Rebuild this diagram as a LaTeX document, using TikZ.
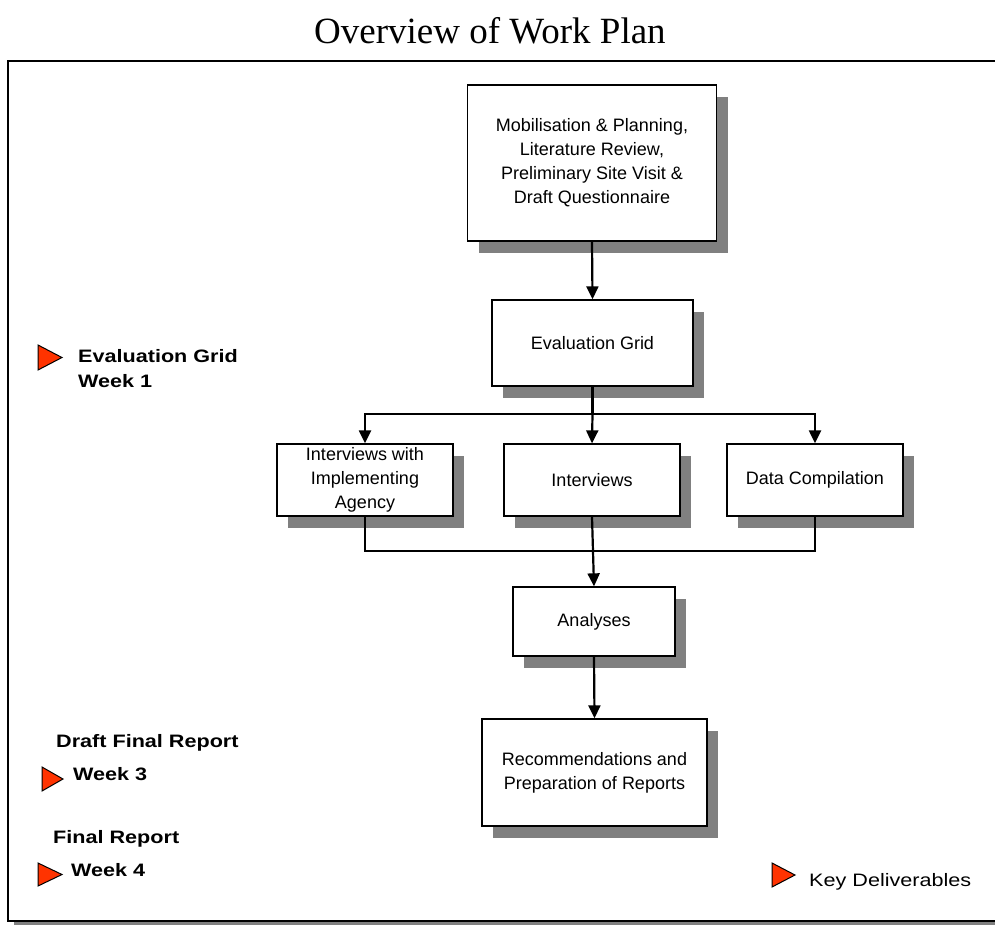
\documentclass[tikz,border=0pt]{standalone}
\usepackage{fontspec}
\setmainfont{Liberation Serif}
\newfontfamily\boxfont{Liberation Sans}
\newfontfamily\legendfont[FakeStretch=1.2]{Liberation Sans}
\usetikzlibrary{arrows.meta,shadows,calc}

\definecolor{shadowgray}{HTML}{808080}
\definecolor{markred}{HTML}{FF3300}

\tikzset{
  stepbox/.style={draw=black, line width=1.3pt, fill=white, inner sep=0pt,
    align=center, font=\boxfont\fontsize{18}{24}\selectfont,
    drop shadow={shadow xshift=11pt, shadow yshift=-12pt, fill=shadowgray, opacity=1}},
  link/.style={line width=2.2pt, line join=miter},
  arr/.style={link, -{Triangle[length=13pt,width=12pt]}},
  deliv/.style={anchor=base west, inner sep=0pt,
    font=\legendfont\fontsize{18}{24}\selectfont},
  marker/.style={fill=markred, draw=black, line width=1pt, line join=miter},
}

\begin{document}
\begin{tikzpicture}[x=1pt, y=-1pt]
  \useasboundingbox (0,0) rectangle (995,926);

  % title
  \node[anchor=base, inner sep=0pt, font=\fontsize{37}{44}\selectfont] (title) at (490,43) {Overview of Work Plan};

  % outer frame with its shadow
  \fill[shadowgray] (14,65) rectangle (1010,925);
  \draw[line width=2pt, fill=white] (8,61) rectangle (1010,921);

  % process boxes
  \node[stepbox, minimum width=249pt, minimum height=156pt] (b1) at (592,163)
    {Mobilisation \& Planning,\\Literature Review,\\Preliminary Site Visit \&\\Draft Questionnaire};
  \node[stepbox, minimum width=201pt, minimum height=86pt] (b2) at (592.5,343) {Evaluation Grid};
  \node[stepbox, minimum width=176pt, minimum height=72pt] (b3) at (365,480) {Interviews with\\Implementing\\Agency};
  \node[stepbox, minimum width=176pt, minimum height=72pt] (b4) at (592,480) {Interviews};
  \node[stepbox, minimum width=176pt, minimum height=72pt] (b5) at (815,480) {Data Compilation};
  \node[stepbox, minimum width=162pt, minimum height=69pt] (b6) at (594,621.5) {Analyses};
  \node[stepbox, minimum width=225pt, minimum height=107pt] (b7) at (594.5,772.5) {Recommendations and\\Preparation of Reports};

  % connectors
  \coordinate (split) at (592.5,414);
  \coordinate (merge) at (594,551);
  \draw[arr] (b1.south) -- (b2.north);
  \draw[link] (b2.south) -- (split);
  \draw[arr] (split) -| (b3.north);
  \draw[arr] (split) -| (b5.north);
  \draw[arr] (split) -- (b4.north);
  \draw[link] (b3.south) |- (merge) -| (b5.south);
  \draw[arr] (b4.south) -- (b6.north);
  \draw[arr] (b6.south) -- (b7.north);

  % key deliverables
  \draw[marker] (38,345) -- (62,357.5) -- (38,370) -- cycle;
  \node[deliv, font=\legendfont\bfseries\fontsize{18}{24}\selectfont] (d1a) at (78,362) {Evaluation Grid};
  \node[deliv, font=\legendfont\bfseries\fontsize{18}{24}\selectfont] (d1b) at (78,387) {Week 1};

  \node[deliv, font=\legendfont\bfseries\fontsize{18}{24}\selectfont] (d3a) at (56,747) {Draft Final Report};
  \draw[marker] (42,767) -- (63,779) -- (42,791) -- cycle;
  \node[deliv, font=\legendfont\bfseries\fontsize{18}{24}\selectfont] (d3b) at (73,780) {Week 3};

  \node[deliv, font=\legendfont\bfseries\fontsize{18}{24}\selectfont] (d4a) at (53,843) {Final Report};
  \draw[marker] (38,863) -- (62,874.5) -- (38,886) -- cycle;
  \node[deliv, font=\legendfont\bfseries\fontsize{18}{24}\selectfont] (d4b) at (71,876) {Week 4};

  \draw[marker] (772,863) -- (795,875) -- (772,887) -- cycle;
  \node[deliv] (key) at (809,886) {Key Deliverables};
\end{tikzpicture}
\end{document}
